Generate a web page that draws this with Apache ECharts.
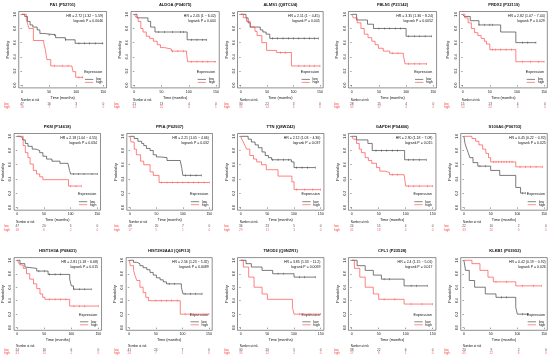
<!DOCTYPE html>
<html><head><meta charset="utf-8">
<script src="https://cdn.jsdelivr.net/npm/echarts@6/dist/echarts.min.js"></script>
<style>html,body{margin:0;padding:0;background:#fff}#c{width:550px;height:357px}</style>
</head><body><div id="c"></div>
<script>
// ---------- DATA ----------
const titles = ['PA1 (P52701)','ALDOA (P04075)','ALMS1 (Q8TCU4)','FBLN1 (P23142)','PRDX2 (P32119)',
  'PKM (P14618)','PPIA (P62937)','TTN (Q8WZ42)','GAPDH (P04406)','S100A6 (P06703)',
  'HIST1H3A (P68431)','HIST2H2AA3 (Q6FI13)','TMOD2 (Q9NZR1)','CFL1 (P23528)','KLKB1 (P03952)'];
const hrTexts = ['HR = 2.72 (1.32 \u2212 5.59)','HR = 2.45 (1 \u2212 6.02)','HR = 2.11 (1 \u2212 4.45)','HR = 3.35 (1.36 \u2212 8.24)','HR = 2.82 (1.07 \u2212 7.44)',
  'HR = 2.18 (1.04 \u2212 4.55)','HR = 2.21 (1.05 \u2212 4.66)','HR = 2.12 (1.03 \u2212 4.36)','HR = 2.90 (1.18 \u2212 7.09)','HR = 0.45 (0.22 \u2212 0.92)',
  'HR = 2.81 (1.18 \u2212 6.68)','HR = 2.56 (1.23 \u2212 5.32)','HR = 3.85 (1.33 \u2212 11.2)','HR = 2.4 (1.15 \u2212 5.01)','HR = 0.42 (0.19 \u2212 0.92)'];
const pTexts = ['logrank P = 0.0046','logrank P = 0.044','logrank P = 0.045','logrank P = 0.0052','logrank P = 0.029',
  'logrank P = 0.034','logrank P = 0.032','logrank P = 0.037','logrank P = 0.015','logrank P = 0.025',
  'logrank P = 0.015','logrank P = 0.0089','logrank P = 0.0069','logrank P = 0.017','logrank P = 0.026'];
const xTicks = [0, 50, 100, 150];
const yTicks = [0, 0.2, 0.4, 0.6, 0.8, 1.0];
const riskTimes = [0, 50, 100, 150];

// survival steps [time, probability]
const pa1Low  = [[0,1],[5,0.97],[10,0.9],[15,0.85],[20,0.82],[28,0.78],[33,0.73],[40,0.71],[62,0.67],[80,0.64],[98,0.59],[150,0.59]];
const pa1High = [[0,1],[8,0.93],[11,0.85],[13,0.8],[21,0.63],[40,0.6],[43,0.5],[46,0.36],[53,0.27],[92,0.27],[94,0.19],[99,0.11],[113,0.11]];
const aldoaLow  = [[0,1],[5,0.95],[25,0.9],[30,0.82],[38,0.75],[97,0.64],[133,0.64]];
const aldoaHigh = [[0,1],[3,0.96],[7,0.9],[12,0.8],[16,0.75],[22,0.69],[28,0.66],[35,0.62],[42,0.57],[48,0.53],[55,0.51],[68,0.48],[96,0.44],[98,0.33],[150,0.33]];
const alms1Low  = [[0,1],[10,0.95],[14,0.88],[18,0.82],[37,0.78],[42,0.75],[48,0.72],[55,0.66],[147,0.66]];
const alms1High = [[0,1],[5,0.95],[11,0.9],[18,0.82],[27,0.76],[31,0.7],[40,0.6],[49,0.49],[68,0.46],[96,0.27],[150,0.27]];
const fbln1Low  = [[0,1],[9,0.92],[29,0.86],[40,0.8],[100,0.69],[147,0.69]];
const fbln1High = [[0,1],[3,0.95],[10,0.88],[17,0.8],[23,0.72],[30,0.67],[37,0.62],[43,0.57],[49,0.52],[58,0.48],[70,0.45],[95,0.42],[98,0.3],[138,0.3]];
const prdx2Low  = [[0,1],[3,0.97],[14,0.91],[30,0.85],[70,0.75],[98,0.6],[135,0.6]];
const prdx2High = [[0,1],[4,0.95],[10,0.88],[16,0.8],[22,0.74],[28,0.7],[34,0.66],[40,0.62],[44,0.58],[50,0.5],[98,0.33],[150,0.33]];
const pkmLow  = [[0,1],[5,0.98],[10,0.95],[15,0.9],[20,0.86],[28,0.82],[35,0.8],[42,0.77],[48,0.72],[55,0.68],[65,0.65],[80,0.62],[95,0.6],[98,0.52],[100,0.47],[150,0.47]];
const pkmHigh = [[0,1],[11,0.87],[15,0.77],[20,0.7],[24,0.61],[30,0.52],[36,0.47],[42,0.43],[48,0.39],[96,0.3],[120,0.3]];
const ppiaLow  = [[0,1],[8,0.97],[15,0.93],[22,0.9],[26,0.87],[31,0.83],[38,0.8],[44,0.74],[50,0.71],[57,0.7],[70,0.66],[95,0.64],[98,0.55],[100,0.45],[135,0.45]];
const ppiaHigh = [[0,1],[2,0.92],[8,0.82],[12,0.74],[20,0.65],[26,0.6],[38,0.5],[44,0.45],[55,0.35],[150,0.35]];
const ttnLow  = [[0,1],[14,0.96],[20,0.92],[27,0.88],[33,0.84],[40,0.78],[46,0.73],[52,0.7],[58,0.67],[95,0.64],[100,0.56],[140,0.56]];
const ttnHigh = [[0,1],[2,0.96],[5,0.92],[8,0.87],[11,0.82],[17,0.73],[24,0.68],[30,0.64],[39,0.6],[48,0.53],[70,0.44],[96,0.36],[100,0.25],[150,0.25]];
const gapdhLow  = [[0,1],[9,0.95],[30,0.9],[38,0.8],[98,0.67],[138,0.67]];
const gapdhHigh = [[0,1],[3,0.96],[9,0.9],[14,0.82],[18,0.77],[25,0.7],[31,0.66],[37,0.62],[46,0.56],[52,0.51],[62,0.49],[70,0.46],[97,0.44],[100,0.3],[150,0.3]];
const s100a6Low  = [[0,1],[2,0.9],[5,0.83],[8,0.77],[11,0.7],[17,0.63],[26,0.58],[50,0.52],[67,0.45],[97,0.28],[106,0.2],[115,0.2]];
const s100a6High = [[0,1],[15,0.97],[22,0.93],[28,0.88],[35,0.82],[41,0.76],[46,0.7],[50,0.64],[97,0.57],[147,0.57]];
const hist1Low  = [[0,1],[5,0.95],[14,0.9],[17,0.88],[36,0.84],[57,0.79],[97,0.72],[100,0.62],[104,0.57],[137,0.57]];
const hist1High = [[0,1],[2,0.97],[5,0.93],[11,0.88],[17,0.8],[23,0.72],[30,0.65],[36,0.58],[42,0.5],[47,0.45],[51,0.42],[97,0.32],[150,0.32]];
const hist2Low  = [[0,1],[8,0.97],[14,0.95],[20,0.92],[26,0.89],[33,0.86],[39,0.82],[45,0.78],[51,0.74],[58,0.71],[64,0.68],[70,0.65],[98,0.6],[101,0.5],[137,0.5]];
const hist2High = [[0,1],[2,0.92],[8,0.85],[11,0.77],[14,0.7],[20,0.6],[26,0.52],[31,0.45],[36,0.4],[96,0.2],[150,0.2]];
const tmod2Low  = [[0,1],[10,0.95],[20,0.9],[40,0.85],[60,0.8],[100,0.75],[140,0.75]];
const tmod2High = [[0,1],[5,0.9],[15,0.75],[25,0.6],[40,0.5],[50,0.42],[97,0.3],[100,0.2],[150,0.2]];
const cfl1Low  = [[0,1],[10,0.92],[25,0.85],[40,0.78],[55,0.72],[97,0.62],[140,0.62]];
const cfl1High = [[0,1],[5,0.88],[15,0.75],[25,0.6],[40,0.5],[50,0.42],[97,0.35],[150,0.35]];
const klkb1Low  = [[0,1],[3,0.85],[10,0.7],[20,0.6],[40,0.5],[60,0.45],[97,0.3],[100,0.2],[120,0.2]];
const klkb1High = [[0,1],[15,0.95],[30,0.85],[45,0.75],[55,0.68],[97,0.62],[145,0.62]];

const lowCurves  = [pa1Low, aldoaLow, alms1Low, fbln1Low, prdx2Low, pkmLow, ppiaLow, ttnLow, gapdhLow, s100a6Low, hist1Low, hist2Low, tmod2Low, cfl1Low, klkb1Low];
const highCurves = [pa1High, aldoaHigh, alms1High, fbln1High, prdx2High, pkmHigh, ppiaHigh, ttnHigh, gapdhHigh, s100a6High, hist1High, hist2High, tmod2High, cfl1High, klkb1High];

// censoring times
const censLow = [[50,60,80,105,115,125,135,148],[45,55,70,85,90,105,115,125,133],[60,70,80,90,100,110,120,130,140,147],[50,60,70,80,90,105,115,125,135,147],[30,40,50,55,110,120,135],
  [105,115,125,140,150],[105,115,125,135],[60,70,80,90,105,115,125,140],[45,55,65,75,85,105,115,125,138],[30,40,110,115],
  [40,50,60,70,80,105,115,125,137],[75,85,105,115,125,137],[70,80,110,120,140],[60,70,110,120,140],[70,80,110,120]];
const censHigh = [[60,75,85,105,112],[70,80,90,105,115,125,135,148],[75,85,110,120,130,140,150],[75,85,105,115,125,138],[55,60,70,80,90,110,125,140,150],
  [100,110,120],[60,70,80,90,100,110,120,130,140,150],[105,120,135,150],[75,85,105,115,125,140,150],[55,60,65,70,75,80,85,90,105,115,125,135,147],
  [60,70,80,90,105,115,125,150],[50,60,70,80,90,105,120,150],[110,130,150],[60,80,110,130,150],[60,80,110,130,145]];

// number at risk at riskTimes
const riskLow  = [[47,16,3,0],[21,13,4,0],[30,22,3,0],[28,15,4,0],[15,13,4,0],[47,20,5,0],[48,20,7,0],[36,23,5,0],[24,15,4,0],[22,10,2,0],[24,16,6,0],[41,24,7,0],[30,20,5,0],[38,22,6,0],[20,9,2,0]];
const riskHigh = [[18,7,2,0],[44,20,4,1],[35,14,4,0],[43,17,4,0],[50,20,3,0],[18,6,2,0],[17,5,1,0],[29,11,3,0],[41,18,4,0],[43,20,6,0],[41,15,2,0],[24,7,1,0],[35,12,2,0],[27,8,1,0],[45,22,6,0]];

// ---------- LAYOUT ----------
const X0   = [[22,134.3,240.7,351.7,462.7],[17.3,130,240.7,351.7,464],[17.3,129.3,240.7,351.7,464]];
const X150 = [[103.3,216,320,433.3,545],[97.3,209.3,320.7,432.7,546],[98.3,209,320.7,432.7,546]];
const BOX_TOP = [11.5, 133.5, 257.6];
const BOX_H   = [76.4, 76.7, 72.7];
const NAR_Y  = [100.7, 222, 346];
const LOW_Y  = [104.3, 226.5, 350];
const HIGH_Y = [107.4, 230.5, 353.5];
const COL_LOW = '#333', COL_HIGH = '#ff4040', TXT = '#111', FONT = 'Liberation Sans, Arial, sans-serif';

function survAt(curve, t) { let s = curve[0][1]; for (const p of curve) { if (p[0] <= t) s = p[1]; } return s; }

const grids = [], xAxes = [], yAxes = [], series = [], graphics = [];
for (let i = 0; i < 15; i++) {
  const r = Math.floor(i / 5), c = i % 5;
  const x0 = X0[r][c], x1 = X150[r][c], k = (x1 - x0) / 150;
  const left = x0 - 6 * k, width = 162 * k, top = BOX_TOP[r], height = BOX_H[r];
  const right = left + width, bottom = top + height;
  grids.push({ left, top, width, height, show: true, borderColor: '#444', borderWidth: 0.6 });
  let gi = grids.length - 1;
  xAxes.push({ gridIndex: gi, type: 'value', min: -6, max: 156, splitLine: { show: false }, axisLine: { show: false },
    axisTick: { show: true, customValues: xTicks, length: 1.5, lineStyle: { color: '#444', width: 0.5 } },
    axisLabel: { customValues: xTicks, fontSize: 3.5, margin: 2.2, color: TXT, fontFamily: FONT },
    name: 'Time (months)', nameLocation: 'middle', nameGap: 8, nameTextStyle: { fontSize: 3.8, color: TXT, fontFamily: FONT } });
  yAxes.push({ gridIndex: gi, type: 'value', min: -0.04, max: 1.04, splitLine: { show: false }, axisLine: { show: false },
    axisTick: { show: true, customValues: yTicks, length: 1.5, lineStyle: { color: '#444', width: 0.5 } },
    axisLabel: { customValues: yTicks, fontSize: 3.4, margin: 2.2, rotate: 90, color: TXT, fontFamily: FONT, formatter: v => v.toFixed(1) },
    name: 'Probability', nameLocation: 'middle', nameGap: 9, nameRotate: 90, nameTextStyle: { fontSize: 3.8, color: TXT, fontFamily: FONT } });
  [[lowCurves[i], censLow[i], COL_LOW], [highCurves[i], censHigh[i], COL_HIGH]].forEach(([curve, cens, col]) => {
    series.push({ type: 'line', xAxisIndex: gi, yAxisIndex: gi, data: curve, step: 'end', showSymbol: false, silent: true,
      lineStyle: { color: col, width: 0.65 }, animation: false });
    series.push({ type: 'scatter', xAxisIndex: gi, yAxisIndex: gi, data: cens.map(t => [t, survAt(curve, t)]), symbol: 'rect',
      symbolSize: [0.5, 2.2], itemStyle: { color: col }, silent: true, animation: false });
  });
  grids.push({ left, top: LOW_Y[r], width, height: HIGH_Y[r] - LOW_Y[r], show: false });
  gi = grids.length - 1;
  xAxes.push({ gridIndex: gi, type: 'value', min: -6, max: 156, show: false });
  yAxes.push({ gridIndex: gi, type: 'value', min: 0, max: 1, inverse: true, axisLine: { show: false }, axisTick: { show: false }, splitLine: { show: false },
    axisLabel: { customValues: [0, 1], fontSize: 3.1, align: 'left', margin: left - (110 * c + 4), fontFamily: FONT,
      formatter: v => (v === 0 ? 'low' : 'high'), color: v => (v === 0 ? TXT : COL_HIGH) } });
  series.push({ type: 'scatter', xAxisIndex: gi, yAxisIndex: gi, symbolSize: 1, itemStyle: { color: 'transparent' }, silent: true, animation: false,
    data: riskTimes.map((t, j) => [t, 0, riskLow[i][j]]),
    label: { show: true, position: 'inside', formatter: p => p.value[2], fontSize: 3.2, color: TXT, fontFamily: FONT } });
  series.push({ type: 'scatter', xAxisIndex: gi, yAxisIndex: gi, symbolSize: 1, itemStyle: { color: 'transparent' }, silent: true, animation: false,
    data: riskTimes.map((t, j) => [t, 1, riskHigh[i][j]]),
    label: { show: true, position: 'inside', formatter: p => p.value[2], fontSize: 3.2, color: COL_HIGH, fontFamily: FONT } });
  const T = (x, y, text, opt) => graphics.push({ type: 'text', x, y, silent: true,
    style: Object.assign({ text, fontSize: 3.5, fill: TXT, fontFamily: FONT, verticalAlign: 'middle', align: 'left' }, opt || {}) });
  T((left + right) / 2, top - 6.5, titles[i], { fontSize: 4.1, fontWeight: 'bold', align: 'center' });
  T(right - 3.5, top + 4.2, hrTexts[i], { align: 'right' });
  T(right - 3.5, top + 9.2, pTexts[i], { align: 'right' });
  T(right - 13.3, bottom - 15.8, 'Expression', { align: 'center', fontSize: 3.7 });
  T(right - 10.6, bottom - 8.5, 'low', { fontSize: 3.5 });
  T(right - 10.6, bottom - 5.5, 'high', { fontSize: 3.5 });
  graphics.push({ type: 'line', silent: true, shape: { x1: right - 21.6, y1: bottom - 8.5, x2: right - 13.3, y2: bottom - 8.5 }, style: { stroke: COL_LOW, lineWidth: 0.6 } });
  graphics.push({ type: 'line', silent: true, shape: { x1: right - 21.6, y1: bottom - 5.5, x2: right - 13.3, y2: bottom - 5.5 }, style: { stroke: COL_HIGH, lineWidth: 0.6 } });
  T(x0 - 1, NAR_Y[r], 'Number at risk', { fontSize: 2.8 });
}

const chart = echarts.init(document.getElementById('c'), null, { renderer: 'canvas' });
chart.setOption({ animation: false, backgroundColor: '#fff', grid: grids, xAxis: xAxes, yAxis: yAxes, series, graphic: graphics });
</script></body></html>
